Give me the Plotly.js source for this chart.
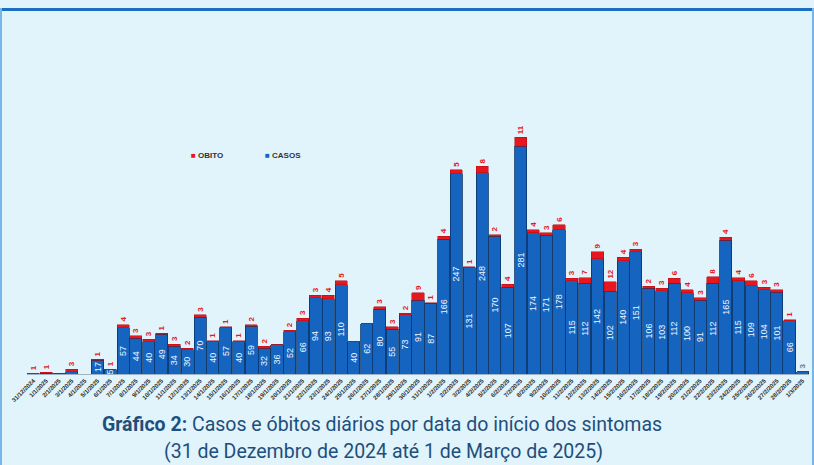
<!DOCTYPE html>
<html>
<head>
<meta charset="utf-8">
<script src="https://cdn.plot.ly/plotly-3.0.1.min.js"></script>
<style>
  html, body { margin: 0; padding: 0; background: #e1f3fb; }
  #wrap { position: relative; width: 814px; height: 465px; overflow: hidden; }
  #chart { width: 814px; height: 465px; }
  .bt { position: absolute; left: 0; top: 8px; width: 814px; height: 3px; background: #1b6ec2; }
  .bl { position: absolute; left: 0; top: 8px; width: 2px; height: 457px; background: #79b6e8; }
  .br { position: absolute; right: 0; top: 8px; width: 2px; height: 457px; background: #79b6e8; }
</style>
</head>
<body>
<div id="wrap">
  <div id="chart"></div>
  <div class="bt"></div><div class="bl"></div><div class="br"></div>
</div>
<script>
const dates = [
  "31/12/2024",
  "1/1/2025","2/1/2025","3/1/2025","4/1/2025","5/1/2025","6/1/2025","7/1/2025","8/1/2025","9/1/2025","10/1/2025",
  "11/1/2025","12/1/2025","13/1/2025","14/1/2025","15/1/2025","16/1/2025","17/1/2025","18/1/2025","19/1/2025","20/1/2025",
  "21/1/2025","22/1/2025","23/1/2025","24/1/2025","25/1/2025","26/1/2025","27/1/2025","28/1/2025","29/1/2025","30/1/2025","31/1/2025",
  "1/2/2025","2/2/2025","3/2/2025","4/2/2025","5/2/2025","6/2/2025","7/2/2025","8/2/2025","9/2/2025","10/2/2025",
  "11/2/2025","12/2/2025","13/2/2025","14/2/2025","15/2/2025","16/2/2025","17/2/2025","18/2/2025","19/2/2025","20/2/2025",
  "21/2/2025","22/2/2025","23/2/2025","24/2/2025","25/2/2025","26/2/2025","27/2/2025","28/2/2025",
  "1/3/2025"
];
const casos = [
  0,
  1,1,3,0,17,5,57,44,40,49,
  34,30,70,40,57,40,59,32,36,52,
  66,94,93,110,40,62,80,55,73,91,87,
  166,247,131,248,170,107,281,174,171,178,
  115,112,142,102,140,151,106,103,112,100,
  91,112,165,115,109,104,101,66,
  3
];
const obito = [
  1,
  1,0,3,0,1,1,4,3,3,1,
  3,2,3,1,1,1,2,2,0,2,
  3,3,4,5,0,0,3,3,2,9,1,
  4,5,1,8,2,4,11,4,3,6,
  3,7,9,12,4,3,2,3,6,4,
  3,8,4,4,6,3,3,1,
  0
];
const seriesNames = ["CASOS", "OBITO"];
const titleLine1 = "<b>Gráfico 2:</b> Casos e óbitos diários por data do início dos sintomas";
const titleLine2 = "(31 de Dezembro de 2024 até 1 de Março de 2025)";

const RED = "#e8161e", BLUE = "#1565c0";
const casosText = casos.map(v => v >= 5 ? String(v) : "");
// above-stack labels: óbitos in red; very small case counts without óbito shown above in grey
const topText = obito.map((v, i) => v > 0 ? String(v) : (casos[i] >= 3 && casos[i] < 5 ? String(casos[i]) : ""));
const topColor = obito.map(v => v > 0 ? RED : "#6b7c8c");

const font = "Liberation Sans, Arial, sans-serif";
const traces = [
  {
    type: "bar", name: seriesNames[0], x: dates, y: casos,
    marker: { color: BLUE, line: { color: "#0b3566", width: 0.8 } },
    text: casosText, textposition: "inside", insidetextanchor: "middle",
    textangle: -90, constraintext: "none",
    textfont: { color: "#eef6ff", size: 9, family: font },
    hoverinfo: "none", cliponaxis: false
  },
  {
    type: "bar", name: seriesNames[1], x: dates, y: obito,
    marker: { color: RED, line: { color: "#b00d12", width: 0.5 } },
    text: topText, textposition: "outside",
    textangle: -90, constraintext: "none",
    textfont: { color: topColor, size: 8, family: font, weight: "bold" },
    hoverinfo: "none", cliponaxis: false
  }
];

const layout = {
  width: 814, height: 465,
  margin: { l: 27, r: 5, t: 40, b: 91 },
  barmode: "stack", bargap: 0.06,
  paper_bgcolor: "#e1f3fb", plot_bgcolor: "#e1f3fb",
  showlegend: false,
  xaxis: {
    type: "category", tickangle: -45, automargin: false,
    tickfont: { size: 6, color: "#2b2b2b", family: font, weight: "bold" },
    showline: true, linecolor: "#9fb3c4", linewidth: 1,
    showgrid: false, ticks: "", fixedrange: true
  },
  yaxis: { visible: false, range: [0, 412], fixedrange: true },
  annotations: [
    { xref: "paper", yref: "paper", x: (189 - 27) / 782, y: (374 - 155) / 334, xanchor: "left", yanchor: "middle",
      text: "<span style='color:" + RED + "'>■</span> " + seriesNames[1], showarrow: false,
      font: { family: font, size: 8, color: "#333333", weight: "bold" } },
    { xref: "paper", yref: "paper", x: (263 - 27) / 782, y: (374 - 155) / 334, xanchor: "left", yanchor: "middle",
      text: "<span style='color:" + BLUE + "'>■</span> " + seriesNames[0], showarrow: false,
      font: { family: font, size: 8, color: "#333333", weight: "bold" } },
    { xref: "paper", yref: "paper", x: (382 - 27) / 782, y: (374 - 424) / 334, xanchor: "center", yanchor: "middle",
      text: titleLine1, showarrow: false,
      font: { family: "Roboto, sans-serif", size: 19.5, color: "#1d4f7c" } },
    { xref: "paper", yref: "paper", x: (383 - 27) / 782, y: (374 - 451) / 334, xanchor: "center", yanchor: "middle",
      text: titleLine2, showarrow: false,
      font: { family: "Roboto, sans-serif", size: 19.5, color: "#1d4f7c" } }
  ]
};

Plotly.newPlot("chart", traces, layout, { displayModeBar: false, staticPlot: true });
</script>
</body>
</html>
